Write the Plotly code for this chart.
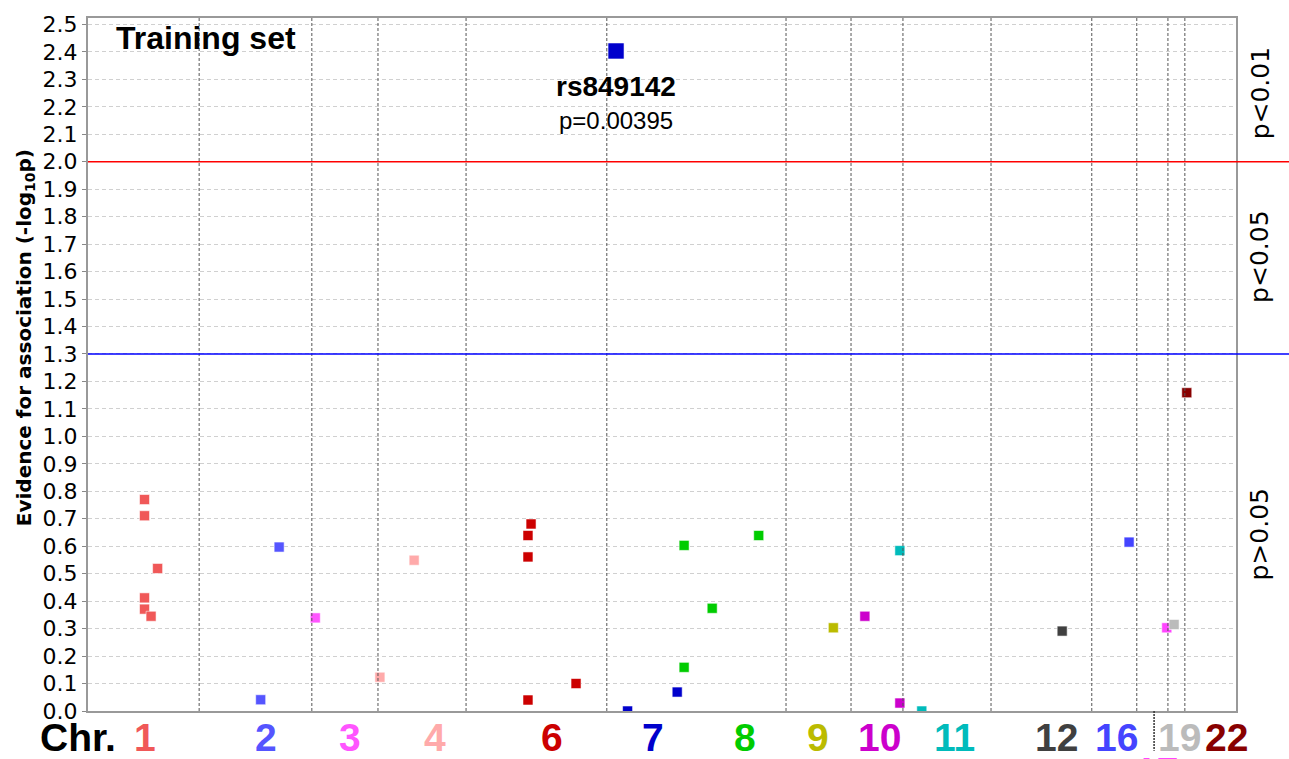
import math
import plotly.graph_objects as go

# Chromosome labels, colours and label positions (cumulative genome position units)
chrom_labels = ["1", "2", "3", "4", "6", "7", "8", "9", "10", "11", "12", "16", "17", "19", "22"]
chrom_colors = ["#f05858", "#5555ff", "#ff55ff", "#ffaaaa", "#cc0000", "#0000cc", "#00cc00",
                "#bbbb00", "#cc00cc", "#00bbbb", "#404040", "#4444ff", "#ff44ff", "#bbbbbb", "#880000"]
label_pos = [148, 463, 681, 902, 1206, 1469, 1708, 1898, 2059, 2252, 2519, 2675, 2777, 2839, 2961]

# Chromosome boundaries drawn as dotted vertical lines
boundaries = [289, 582, 754, 983, 1349, 1815, 1984, 2119, 2348, 2610, 2727, 2808, 2852]
boundary_below_axis = 2772
genome_end = 2985

# SNPs: chromosome, cumulative position, -log10(p)
snp_chr = ["1", "1", "1", "1", "1", "1",
           "2", "2",
           "3",
           "4", "4",
           "6", "6", "6", "6", "6",
           "7", "7",
           "8", "8", "8", "8",
           "9",
           "10", "10",
           "11", "11",
           "12",
           "16",
           "17",
           "19",
           "22"]
snp_pos = [147, 147, 181, 147, 147, 164,
           497, 449,
           591,
           848, 759,
           1152, 1144, 1144, 1269, 1144,
           1532, 1403,
           1550, 1744, 1623, 1550,
           1938,
           2020, 2111,
           2111, 2168,
           2533,
           2707,
           2805,
           2824,
           2857]
snp_logp = [0.770, 0.711, 0.519, 0.412, 0.371, 0.345,
            0.597, 0.041,
            0.339,
            0.549, 0.123,
            0.681, 0.639, 0.561, 0.100, 0.040,
            0.069, 0.0,
            0.603, 0.639, 0.374, 0.159,
            0.303,
            0.345, 0.029,
            0.584, 0.0,
            0.291,
            0.615,
            0.303,
            0.315,
            1.159]

# Top hit
top_snp = "rs849142"
top_chr = "7"
top_pos = 1373
top_p = 0.00395
top_logp = -math.log10(top_p)

thresholds = [2.0, 1.3]
threshold_colors = ["#ff0000", "#0000ff"]

W, H = 1289, 759
ML, MR, MT, MB = 88, 53, 12, 48
PH = H - MT - MB
PW = W - ML - MR

color_of = dict(zip(chrom_labels, chrom_colors))

fig = go.Figure()

fig.add_trace(go.Scatter(
    x=snp_pos, y=snp_logp, mode="markers",
    marker=dict(symbol="square", size=10,
                color=[color_of[c] for c in snp_chr],
                line=dict(color="rgba(255,255,255,0.55)", width=1)),
    showlegend=False, hoverinfo="skip",
))
fig.add_trace(go.Scatter(
    x=[top_pos], y=[top_logp], mode="markers",
    marker=dict(symbol="square", size=16, color=color_of[top_chr],
                line=dict(color="rgba(255,255,255,0.55)", width=1)),
    showlegend=False, hoverinfo="skip",
))

shapes = []
for b in boundaries:
    shapes.append(dict(type="line", xref="x", yref="paper", x0=b, x1=b, y0=0, y1=1,
                       line=dict(color="#555555", width=1, dash="3px,2px"), layer="above"))
shapes.append(dict(type="line", xref="x", yref="paper", x0=boundary_below_axis, x1=boundary_below_axis,
                   y0=0, y1=-40 / PH, line=dict(color="#333333", width=1.5, dash="2px,1px")))
for t, c in zip(thresholds, threshold_colors):
    shapes.append(dict(type="line", xref="paper", yref="y", x0=0, x1=(W - ML) / PW, y0=t, y1=t,
                       line=dict(color=c, width=1.5), layer="above"))

def py(pix):
    """Paper y for a pixel row."""
    return (H - MB - pix) / PH

def px(pix):
    return (pix - ML) / PW

ann = []
for lab, col, pos in zip(chrom_labels, chrom_colors, label_pos):
    if lab == "17":
        continue
    ann.append(dict(x=pos, y=py(738), xref="x", yref="paper", text=f"<b>{lab}</b>",
                    showarrow=False, xanchor="center", yanchor="middle",
                    font=dict(family="Liberation Sans, Arial", size=39, color=col)))
# label for chr 17 sits below the others
ann.append(dict(x=label_pos[chrom_labels.index("17")], y=py(772), xref="x", yref="paper",
                text="<b>17</b>", showarrow=False, xanchor="center", yanchor="middle",
                font=dict(family="Liberation Sans, Arial", size=39, color=color_of["17"])))
ann.append(dict(x=px(78), y=py(738), xref="paper", yref="paper", text="<b>Chr.</b>",
                showarrow=False, xanchor="center", yanchor="middle",
                font=dict(family="Liberation Sans, Arial", size=39, color="#000000")))

ann.append(dict(x=px(114), y=py(32), xref="paper", yref="paper", text="<b>Training set</b>",
                showarrow=False, xanchor="left", yanchor="middle",
                font=dict(family="Liberation Sans, Arial", size=32, color="#000000")))

ann.append(dict(x=top_pos, y=top_logp, xref="x", yref="y", text=f"<b>{top_snp}</b>",
                showarrow=False, xanchor="center", yanchor="middle", yshift=-36,
                font=dict(family="Liberation Sans, Arial", size=28, color="#000000")))
ann.append(dict(x=top_pos, y=top_logp, xref="x", yref="y", text=f"p={top_p}",
                showarrow=False, xanchor="center", yanchor="middle", yshift=-70,
                font=dict(family="Liberation Sans, Arial", size=24, color="#000000")))

ann.append(dict(x=px(25), y=py(335), xref="paper", yref="paper",
                text="<b>Evidence for association (-log<sub>10</sub>p)</b>",
                showarrow=False, textangle=-90, xanchor="center", yanchor="middle",
                font=dict(family="DejaVu Sans", size=20, color="#000000")))

for txt, yc in [("p<0.01", 88), ("p<0.05", 253), ("p>0.05", 533)]:
    ann.append(dict(x=px(1260), y=py(yc), xref="paper", yref="paper", text=txt,
                    showarrow=False, textangle=-90, xanchor="center", yanchor="middle",
                    font=dict(family="DejaVu Sans", size=25, color="#000000")))

fig.update_layout(
    width=W, height=H,
    margin=dict(l=ML, r=MR, t=MT, b=MB),
    paper_bgcolor="white", plot_bgcolor="white",
    shapes=shapes, annotations=ann,
    xaxis=dict(range=[0, genome_end], showgrid=False, zeroline=False, showticklabels=False,
               ticks="", showline=True, linecolor="#999999", linewidth=2, mirror=True),
    yaxis=dict(range=[0, PH / 277], dtick=0.1, tick0=0, tickformat=".1f",
               showgrid=True, gridcolor="#d0d0d0", griddash="4px,3px", gridwidth=1,
               zeroline=False, ticks="outside", ticklen=4, tickcolor="#888888",
               showline=True, linecolor="#999999", linewidth=2, mirror=True,
               tickfont=dict(family="DejaVu Sans", size=22, color="#000000")),
)

fig.write_html("out.html")
